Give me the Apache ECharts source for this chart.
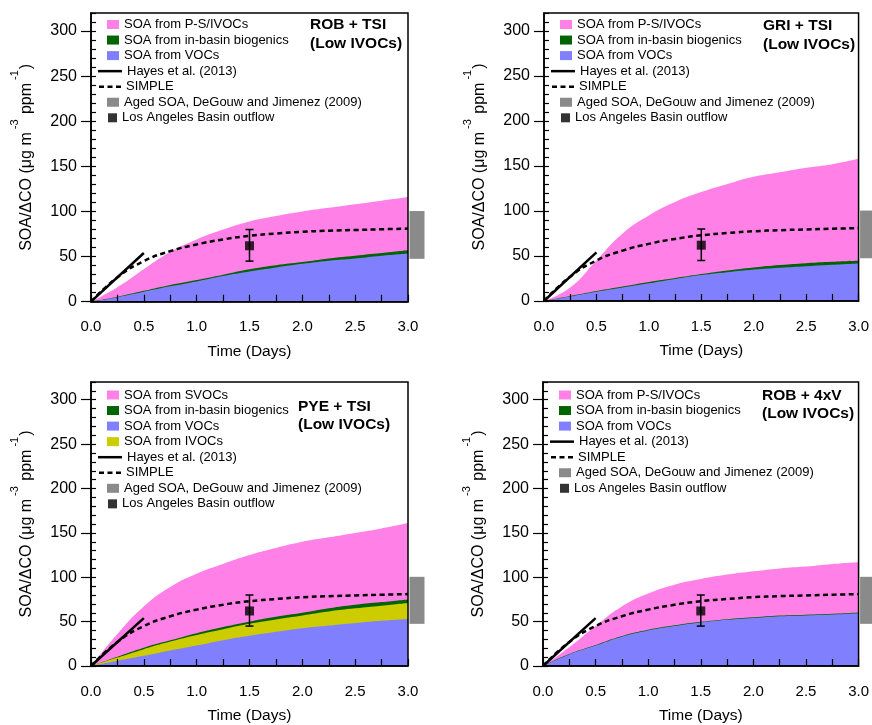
<!DOCTYPE html>
<html>
<head>
<meta charset="utf-8">
<script src="https://cdn.jsdelivr.net/npm/echarts@6/dist/echarts.min.js"></script>
<style>
html,body{margin:0;padding:0;background:#fff;}
#chart{width:872px;height:725px;}
</style>
</head>
<body>
<div id="chart"></div>
<script>
// ---------------- DATA ----------------
const xDays = [0, 0.25, 0.5, 0.75, 1.0, 1.25, 1.5, 1.75, 2.0, 2.25, 2.5, 2.75, 3.0];
const xTickLabels = ['0.0', '0.5', '1.0', '1.5', '2.0', '2.5', '3.0'];
const yMajorTicks = [0, 50, 100, 150, 200, 250, 300];

// SIMPLE parameterisation (same in every panel)
const simpleValues = [0, 27, 45, 56, 63.5, 69, 73, 75.5, 77.5, 78.7, 79.5, 80.3, 81];
// Hayes et al. (2013)
const hayesX = [0, 0.5];
const hayesY = [0, 54];
// Los Angeles Basin outflow point with error bar
const outflowX = 1.5;
const outflowY = 62;
const outflowLow = 45;
const outflowHigh = 80;
// Aged SOA, DeGouw and Jimenez (2009)
const agedSOALow = 47.5;
const agedSOAHigh = 100.5;

// Panel 1: ROB + TSI (cumulative tops)
const robTsiTotal = [0, 16, 36, 55, 69, 80, 89, 95, 100, 104, 108, 112, 116];
const robTsiBio   = [0, 5.5, 12, 18.5, 24, 30, 36, 40.5, 44, 48, 51, 54, 57];
const robTsiVOC   = [0, 5, 11, 17, 22.5, 28.5, 33.5, 38, 42, 45.5, 48, 51, 53.5];

// Panel 2: GRI + TSI
const griTsiTotal = [0, 15, 45, 75, 95, 110, 121, 130, 138, 143, 148, 152, 158];
const griTsiBio   = [0, 5.5, 11, 16, 21, 25.5, 30, 34, 37.3, 40, 42, 43.5, 44.6];
const griTsiVOC   = [0, 5, 10.3, 15, 19.6, 24.5, 28.8, 32, 35, 37, 38.7, 40.3, 41.7];

// Panel 3: PYE + TSI
const pyeTsiTotal = [0, 36, 67, 89, 104, 115, 125, 133, 140, 145, 150, 155, 161];
const pyeTsiBio   = [0, 10.5, 20.7, 29, 37, 44, 50, 55.5, 60, 65, 69, 72, 75];
const pyeTsiIVOC  = [0, 9.5, 19, 27.5, 35, 41.5, 47.6, 52.5, 57, 61.5, 65, 68, 71];
const pyeTsiVOC   = [0, 6, 11.5, 17.5, 23, 29, 34, 38.5, 42.5, 45.5, 48.4, 51, 53];

// Panel 4: ROB + 4xV
const rob4xvTotal = [0, 21, 45, 67, 81.6, 91.6, 98, 103, 106.7, 110, 112, 115, 117];
const rob4xvBio   = [0, 13.4, 23.6, 33.7, 40.8, 45.8, 49.8, 52.8, 54.8, 56.8, 57.8, 58.8, 60.3];
const rob4xvVOC   = [0, 13, 23, 33, 40, 45, 49, 52, 54, 56, 57, 58, 59.5];

const panelTitles = ['ROB + TSI\n(Low IVOCs)', 'GRI + TSI\n(Low IVOCs)', 'PYE + TSI\n(Low IVOCs)', 'ROB + 4xV\n(Low IVOCs)'];

// ---------------- STYLE / LAYOUT ----------------
const FONT = '"Liberation Sans", Arial, Helvetica, sans-serif';
const C_PINK = '#ff80e6', C_GREEN = '#006400', C_BLUE = '#8080ff', C_YELLOW = '#cccc00', C_GRAY = '#8a8a8a';

const N_PS = 'SOA from P-S/IVOCs', N_SV = 'SOA from SVOCs', N_BIO = 'SOA from in-basin biogenics',
      N_VOC = 'SOA from VOCs', N_IV = 'SOA from IVOCs', N_HAYES = 'Hayes et al. (2013)',
      N_SIMPLE = 'SIMPLE', N_AGED = 'Aged SOA, DeGouw and Jimenez (2009)', N_LA = 'Los Angeles Basin outflow';

const ICON_SOLID = 'path://M0,0h24v2.5h-24z';
const ICON_DASH = 'path://M0,0h5v2.5h-5z M8.5,0h5v2.5h-5z M17,0h5v2.5h-5z';

const layouts = [
  {left: 91,  top: 13,  width: 317, height: 288.7, titleDx: 219, titleTop: 15.8, legendY: 24.5},
  {left: 544, top: 13,  width: 317, height: 288,   titleDx: 219, titleTop: 16.8, legendY: 24.5},
  {left: 91,  top: 382, width: 317, height: 288.3, titleDx: 207, titleTop: 397,  legendY: 395},
  {left: 543, top: 382, width: 317, height: 288.3, titleDx: 219, titleTop: 386,  legendY: 395}
];

const panelAreas = [
  [{name: N_PS, color: C_PINK, v: robTsiTotal}, {name: N_BIO, color: C_GREEN, v: robTsiBio}, {name: N_VOC, color: C_BLUE, v: robTsiVOC}],
  [{name: N_PS, color: C_PINK, v: griTsiTotal}, {name: N_BIO, color: C_GREEN, v: griTsiBio}, {name: N_VOC, color: C_BLUE, v: griTsiVOC}],
  [{name: N_SV, color: C_PINK, v: pyeTsiTotal}, {name: N_BIO, color: C_GREEN, v: pyeTsiBio}, {name: N_IV, color: C_YELLOW, v: pyeTsiIVOC}, {name: N_VOC, color: C_BLUE, v: pyeTsiVOC}],
  [{name: N_PS, color: C_PINK, v: rob4xvTotal}, {name: N_BIO, color: C_GREEN, v: rob4xvBio}, {name: N_VOC, color: C_BLUE, v: rob4xvVOC}]
];

const panelLegendRows = [
  [[N_PS,'rect',C_PINK],[N_BIO,'rect',C_GREEN],[N_VOC,'rect',C_BLUE],[N_HAYES,'solid'],[N_SIMPLE,'dash'],[N_AGED,'rect',C_GRAY],[N_LA,'square','#000']],
  [[N_PS,'rect',C_PINK],[N_BIO,'rect',C_GREEN],[N_VOC,'rect',C_BLUE],[N_HAYES,'solid'],[N_SIMPLE,'dash'],[N_AGED,'rect',C_GRAY],[N_LA,'square','#000']],
  [[N_SV,'rect',C_PINK],[N_BIO,'rect',C_GREEN],[N_VOC,'rect',C_BLUE],[N_IV,'rect',C_YELLOW],[N_HAYES,'solid'],[N_SIMPLE,'dash'],[N_AGED,'rect',C_GRAY],[N_LA,'square','#000']],
  [[N_PS,'rect',C_PINK],[N_BIO,'rect',C_GREEN],[N_VOC,'rect',C_BLUE],[N_HAYES,'solid'],[N_SIMPLE,'dash'],[N_AGED,'rect',C_GRAY],[N_LA,'square','#000']]
];

const grids = [], xAxes = [], yAxes = [], series = [], legends = [], titles = [];

layouts.forEach((L, gi) => {
  grids.push({left: L.left, top: L.top, width: L.width, height: L.height, show: true,
              borderColor: '#000', borderWidth: 1.5, backgroundColor: 'transparent', z: 10});
  xAxes.push({
    type: 'value', gridIndex: gi, min: 0, max: 3, interval: 0.5, z: 10,
    axisLine: {show: true, onZero: false, lineStyle: {color: '#000', width: 1.5}},
    axisTick: {show: true, inside: true, length: 7, lineStyle: {color: '#000', width: 1.2}},
    minorTick: {show: true, splitNumber: 2, length: 7, lineStyle: {color: '#000', width: 1.2}},
    splitLine: {show: false},
    axisLabel: {color: '#000', fontSize: 15, fontFamily: FONT, margin: 18,
                formatter: v => xTickLabels[Math.round(v / 0.5)] ?? ''},
    name: 'Time (Days)', nameLocation: 'middle', nameGap: 42,
    nameTextStyle: {color: '#000', fontSize: 15.5, fontFamily: FONT}
  });
  yAxes.push({
    type: 'value', gridIndex: gi, min: 0, max: 320, interval: 50, z: 10,
    axisLine: {show: true, onZero: false, lineStyle: {color: '#000', width: 1.5}},
    axisTick: {show: true, length: 10, customValues: yMajorTicks, lineStyle: {color: '#000', width: 1.2}},
    splitLine: {show: false},
    axisLabel: {color: '#000', fontSize: 16, fontFamily: FONT, margin: 14, customValues: yMajorTicks},
    name: '{m|SOA/ΔCO (μg m}{s|-3}{m| ppm}{s|-1}{m|)}', nameLocation: 'middle', nameGap: 61,
    nameTextStyle: {
      color: '#000', fontFamily: FONT,
      rich: {
        m: {fontSize: 16, fontFamily: FONT, color: '#000', lineHeight: 16, padding: [9.5, 0, 0, 0]},
        s: {fontSize: 11, fontFamily: FONT, color: '#000', lineHeight: 11, padding: [0, 1, 14.5, 3]}
      }
    }
  });
  yAxes.push({
    type: 'value', gridIndex: gi, min: 0, max: 320, interval: 10, z: 10,
    axisLine: {show: false}, splitLine: {show: false}, axisLabel: {show: false},
    axisTick: {show: true, length: 5, lineStyle: {color: '#000', width: 1.2}}
  });

  const yi = gi * 2;
  panelAreas[gi].forEach(a => {
    series.push({
      type: 'line', name: a.name, xAxisIndex: gi, yAxisIndex: yi,
      data: xDays.map((x, i) => [x, a.v[i]]),
      smooth: 0.5, symbol: 'none', silent: true,
      color: a.color, itemStyle: {color: a.color},
      lineStyle: {width: 0, color: a.color}, areaStyle: {color: a.color, opacity: 1}, z: 2
    });
  });
  series.push({
    type: 'line', name: N_HAYES, xAxisIndex: gi, yAxisIndex: yi,
    data: hayesX.map((x, i) => [x, hayesY[i]]), symbol: 'none', silent: true,
    color: '#000', lineStyle: {color: '#000', width: 2.5, type: 'solid'}, z: 4
  });
  series.push({
    type: 'line', name: N_SIMPLE, xAxisIndex: gi, yAxisIndex: yi,
    data: xDays.map((x, i) => [x, simpleValues[i]]), smooth: 0.5,
    symbol: 'none', silent: true, color: '#000',
    lineStyle: {color: '#000', width: 2.5, type: [5, 3.5]}, z: 4
  });
  series.push({
    type: 'custom', name: 'errorbar', xAxisIndex: gi, yAxisIndex: yi, silent: true, z: 5,
    data: [[outflowX, outflowLow, outflowHigh]],
    encode: {x: 0, y: [1, 2]},
    renderItem: (params, api) => {
      const lo = api.coord([api.value(0), api.value(1)]);
      const hi = api.coord([api.value(0), api.value(2)]);
      const hw = 4;
      const st = {stroke: '#000', lineWidth: 1.5};
      return {type: 'group', children: [
        {type: 'line', shape: {x1: lo[0], y1: lo[1], x2: hi[0], y2: hi[1]}, style: st},
        {type: 'line', shape: {x1: lo[0] - hw, y1: lo[1], x2: lo[0] + hw, y2: lo[1]}, style: st},
        {type: 'line', shape: {x1: hi[0] - hw, y1: hi[1], x2: hi[0] + hw, y2: hi[1]}, style: st}
      ]};
    }
  });
  series.push({
    type: 'scatter', name: N_LA, xAxisIndex: gi, yAxisIndex: yi, silent: true,
    data: [[outflowX, outflowY]], symbol: 'rect', symbolSize: 9, color: '#000',
    itemStyle: {color: '#000'}, z: 6
  });
  series.push({
    type: 'custom', name: N_AGED, xAxisIndex: gi, yAxisIndex: yi, silent: true, clip: false, z: 3,
    color: C_GRAY,
    data: [[3.0, agedSOALow, agedSOAHigh]],
    encode: {x: 0, y: [1, 2]},
    renderItem: (params, api) => {
      const lo = api.coord([api.value(0), api.value(1)]);
      const hi = api.coord([api.value(0), api.value(2)]);
      return {type: 'rect', shape: {x: lo[0] + 1.5, y: hi[1], width: 15, height: lo[1] - hi[1]},
              style: {fill: C_GRAY}};
    }
  });

  titles.push({
    text: panelTitles[gi], left: L.left + L.titleDx, top: L.titleTop, padding: 0,
    textStyle: {fontSize: 15.5, fontWeight: 'bold', fontFamily: FONT, color: '#000', lineHeight: 18.5}
  });

  panelLegendRows[gi].forEach((row, ri) => {
    const [name, kind, color] = row;
    const cy = L.legendY + 15.55 * ri;
    const base = {
      orient: 'vertical', padding: 0, itemGap: 0, selectedMode: false, top: cy - 7,
      symbolKeepAspect: false,
      textStyle: {fontSize: 13, fontFamily: FONT, color: '#000', lineHeight: 14}
    };
    if (kind === 'rect') {
      legends.push(Object.assign(base, {left: L.left + 16, itemWidth: 12, itemHeight: 9,
        data: [{name, icon: 'rect', itemStyle: {color}}]}));
    } else if (kind === 'square') {
      legends.push(Object.assign(base, {left: L.left + 17, itemWidth: 9, itemHeight: 9,
        data: [{name, icon: 'rect', itemStyle: {color}}]}));
    } else if (kind === 'solid') {
      legends.push(Object.assign(base, {left: L.left + 7, itemWidth: 24, itemHeight: 2.5,
        data: [{name, icon: ICON_SOLID, itemStyle: {color: '#000'}}]}));
    } else {
      legends.push(Object.assign(base, {left: L.left + 8, itemWidth: 22, itemHeight: 2.5,
        data: [{name, icon: ICON_DASH, itemStyle: {color: '#000'}}]}));
    }
  });
});

const chart = echarts.init(document.getElementById('chart'), null, {renderer: 'canvas'});
chart.setOption({
  animation: false,
  backgroundColor: '#fff',
  title: titles,
  legend: legends,
  grid: grids,
  xAxis: xAxes,
  yAxis: yAxes,
  series: series
});
</script>
</body>
</html>
